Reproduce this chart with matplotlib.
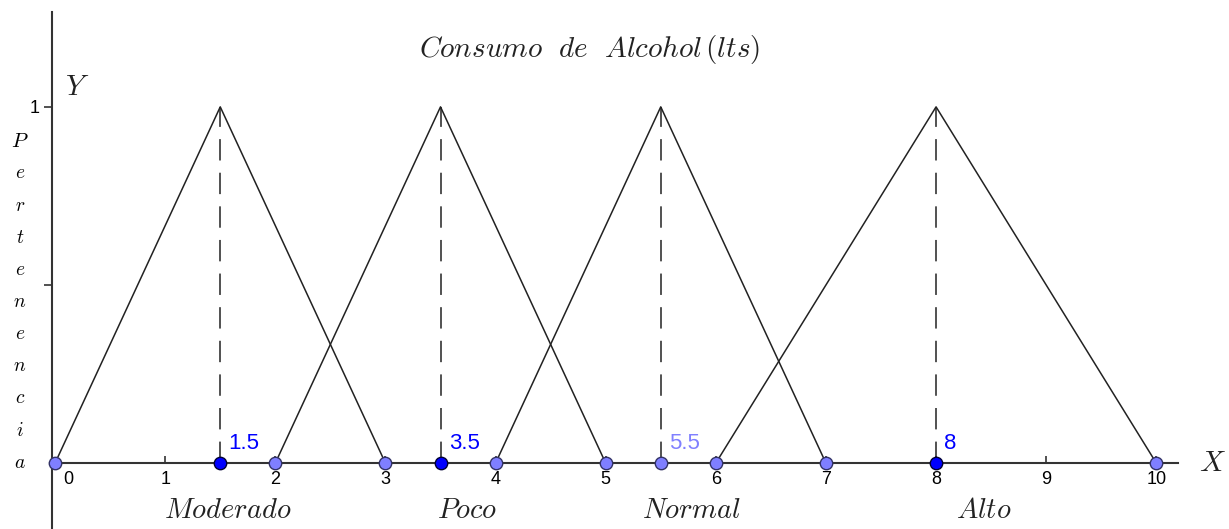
import matplotlib.pyplot as plt
import numpy as np

plt.rcParams['mathtext.fontset'] = 'cm'
plt.rcParams['font.family'] = ['Liberation Sans', 'DejaVu Sans']

# membership functions: (start, peak, end) for each set
sets = ['Moderado', 'Poco', 'Normal', 'Alto']
starts = [0, 2, 4, 6]
peaks = [1.5, 3.5, 5.5, 8]
ends = [3, 5, 7, 10]

# points on the x axis
base_pts = [0, 2, 3, 4, 5, 5.5, 6, 7, 10]
peak_pts = [1.5, 3.5, 8]
peak_labels = ['1.5', '3.5', '5.5', '8']
peak_label_colors = ['#0000ff', '#0000ff', '#8080ff', '#0000ff']

xticks = list(range(11))
ylabel_letters = list('Pertenencia')

fig = plt.figure(figsize=(12.29, 5.29), dpi=100)
ax = fig.add_axes([0, 0, 1, 1])
ax.set_xlim(-0.5, 10.66)
ax.set_ylim(-0.185, 1.30)

axcol = '#333333'
for s in ['top', 'right']:
    ax.spines[s].set_visible(False)
ax.spines['left'].set_position(('data', -0.03))
ax.spines['bottom'].set_position(('data', 0))
ax.spines['left'].set_bounds(-0.2, 1.265)
ax.spines['bottom'].set_bounds(-0.05, 10.2)
for s in ['left', 'bottom']:
    ax.spines[s].set_color(axcol)
    ax.spines[s].set_linewidth(1.5)

ax.set_xticks([t for t in xticks if t != 0])
ax.set_xticklabels([])
ax.tick_params(axis='x', direction='in', length=5, width=1.2, color=axcol)
ax.set_yticks([0.5, 1])
ax.set_yticklabels(['', '1'])
ax.tick_params(axis='y', direction='out', length=6, width=1.2, color=axcol,
               labelsize=13, pad=3)

# x tick labels
for t in xticks:
    if t == 0:
        ax.text(t + 0.07, -0.022, str(t), ha='left', va='top', fontsize=13)
    else:
        ax.text(t, -0.022, str(t), ha='center', va='top', fontsize=13)

# triangles and dashed peak lines
for name, a, b, c in zip(sets, starts, peaks, ends):
    ax.plot([a, b, c], [0, 1, 0], color='#222222', lw=1.1, zorder=3)
    ax.plot([b, b], [0, 1], color='#222222', lw=1.1, ls=(0, (14, 8)), zorder=3)

ax.scatter(base_pts, np.zeros(len(base_pts)), s=80, color='#7f7fff',
           edgecolor='#333366', linewidth=1.0, zorder=5, clip_on=False)
ax.scatter(peak_pts, np.zeros(len(peak_pts)), s=80, color='#0000ff',
           edgecolor='#000033', linewidth=1.0, zorder=6, clip_on=False)

for p, lab, col in zip(peaks, peak_labels, peak_label_colors):
    ax.text(p + 0.075, 0.025, lab, color=col, fontsize=16, ha='left', va='bottom')

# set names under the axis
name_x = [1.57, 3.74, 5.78, 8.43]
for name, nx in zip(sets, name_x):
    ax.text(nx, -0.135, r'$' + name + '$', fontsize=20.5, ha='center', va='center',
            color='#222222')

ax.text(4.85, 1.16, r'$Consumo\ \ de\ \ Alcohol\,(lts)$', fontsize=21,
        ha='center', va='center', color='#222222')
ax.text(0.2, 1.055, r'$Y$', fontsize=21, ha='center', va='center', color='#222222')
ax.text(10.51, 0.0, r'$X$', fontsize=21, ha='center', va='center', color='#222222')

# vertical axis title, one letter per row
ly = np.linspace(0.902, 0.0, len(ylabel_letters))
for ch, y in zip(ylabel_letters, ly):
    fs = 15 if ch == 'P' else 14
    ax.text(-0.32, y, r'$' + ch + '$', fontsize=fs, ha='center', va='center')

fig.savefig('out.png', dpi=100)
